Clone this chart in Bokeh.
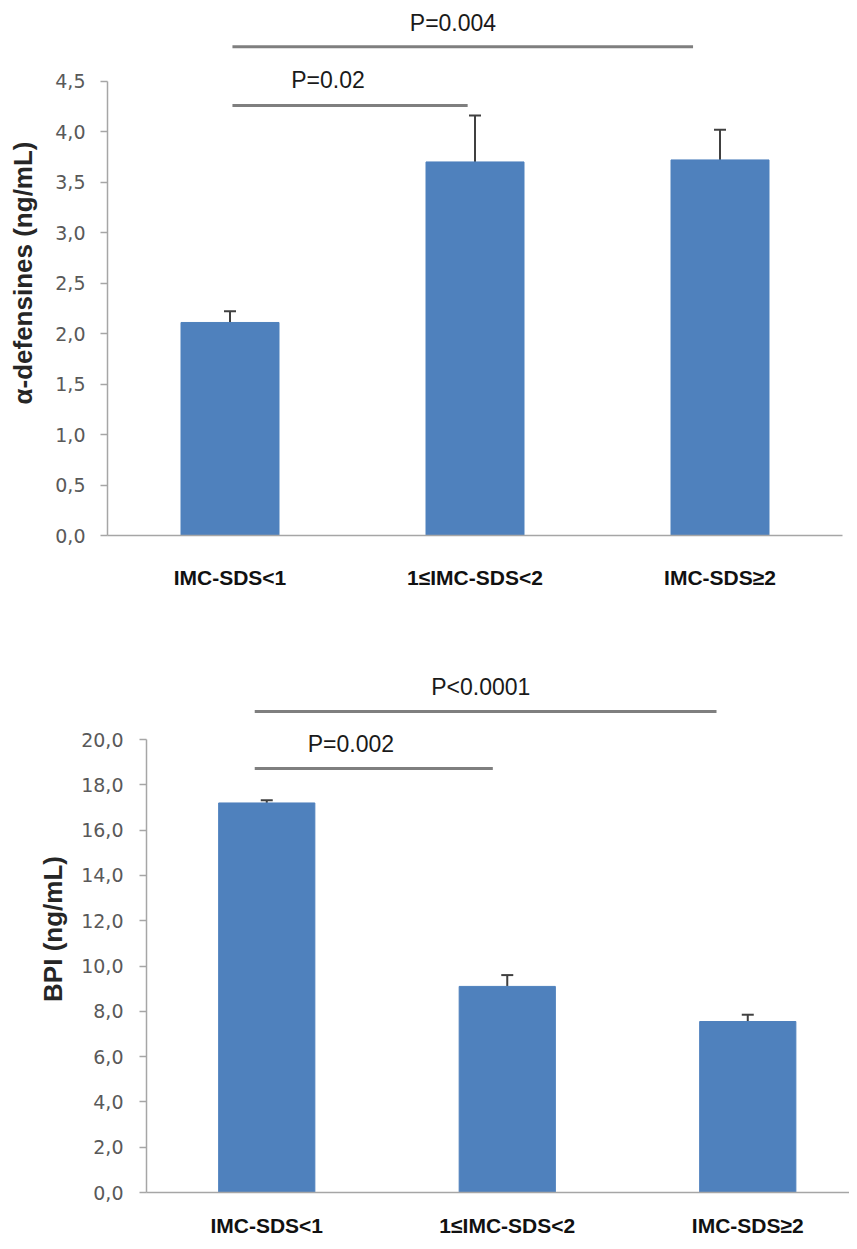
from bokeh.plotting import figure
from bokeh.models import Range1d, FixedTicker, ColumnDataSource, Whisker, TeeHead
from bokeh.core.properties import value
from bokeh.embed import file_html
from bokeh.resources import INLINE

# ---------------- data ----------------
categories = ["IMC-SDS<1", "1\u2264IMC-SDS<2", "IMC-SDS\u22652"]

defensin_mean = [2.11, 3.70, 3.72]
defensin_err = [0.11, 0.46, 0.30]
defensin_ticks = [0.0, 0.5, 1.0, 1.5, 2.0, 2.5, 3.0, 3.5, 4.0, 4.5]
defensin_tick_labels = ["0,0", "0,5", "1,0", "1,5", "2,0", "2,5", "3,0", "3,5", "4,0", "4,5"]
defensin_p_labels = ["P=0.02", "P=0.004"]

bpi_mean = [17.2, 9.1, 7.55]
bpi_err = [0.12, 0.50, 0.30]
bpi_ticks = [0.0, 2.0, 4.0, 6.0, 8.0, 10.0, 12.0, 14.0, 16.0, 18.0, 20.0]
bpi_tick_labels = ["0,0", "2,0", "4,0", "6,0", "8,0", "10,0", "12,0", "14,0", "16,0", "18,0", "20,0"]
bpi_p_labels = ["P=0.002", "P<0.0001"]

BAR = "#4F81BD"
AXIS = "#A6A6A6"
TICKLAB = "#595959"
NARROW = "'Liberation Sans Narrow', 'Arial Narrow', 'Liberation Sans', sans-serif"


def make_chart(means, errs, ticks, tick_labels, ylabel, p_labels,
               bracket_x0, bracket_x1, bracket_y, ptext_x, ptext_y,
               width, height, left, right, top, bottom, x_end, y_end,
               label_standoff, tick_standoff, ylabel_standoff):
    xs = [i + 0.5 for i in range(len(categories))]
    p = figure(width=width, height=height, output_backend="svg", toolbar_location=None,
               x_range=Range1d(0, x_end), y_range=Range1d(0, y_end),
               min_border_left=left, min_border_right=right,
               min_border_top=top, min_border_bottom=bottom)
    p.outline_line_color = None
    p.xgrid.visible = False
    p.ygrid.visible = False
    p.background_fill_color = "white"
    p.border_fill_color = "white"

    src = ColumnDataSource(dict(x=xs, top=means,
                                upper=[m + e for m, e in zip(means, errs)]))
    p.vbar(x="x", top="top", width=0.4, bottom=0, source=src,
           fill_color=BAR, line_color=BAR)
    w = Whisker(source=src, base="x", upper="upper", lower="top",
                upper_head=TeeHead(size=12, line_color="#404040", line_width=2),
                lower_head=None, line_color="#404040", line_width=2)
    p.add_layout(w)

    # significance brackets
    p.segment(x0=bracket_x0, x1=bracket_x1, y0=bracket_y, y1=bracket_y,
              line_color="#7F7F7F", line_width=3)
    p.text(x=ptext_x, y=ptext_y, text=p_labels, text_align="center",
           text_baseline="middle", text_font=value(NARROW),
           text_font_size="23px", text_color="#1a1a1a")

    # y axis
    ya = p.yaxis[0]
    ya.ticker = FixedTicker(ticks=ticks)
    ya.major_label_overrides = dict(zip(ticks, tick_labels))
    ya.bounds = (ticks[0], ticks[-1])
    ya.axis_line_color = AXIS
    ya.axis_line_width = 1.5
    ya.major_tick_line_color = AXIS
    ya.major_tick_line_width = 1.5
    ya.major_tick_out = 7
    ya.major_tick_in = 0
    ya.minor_tick_line_color = None
    ya.major_label_text_font = "DejaVu Sans"
    ya.major_label_text_font_size = "19px"
    ya.major_label_text_color = TICKLAB
    ya.major_label_standoff = tick_standoff
    ya.axis_label = ylabel
    ya.axis_label_text_font = "Liberation Sans"
    ya.axis_label_text_font_style = "bold"
    ya.axis_label_text_font_size = "26px"
    ya.axis_label_text_color = "#262626"
    ya.axis_label_standoff = ylabel_standoff

    # x axis
    xa = p.xaxis[0]
    xa.ticker = FixedTicker(ticks=xs)
    xa.major_label_overrides = dict(zip(xs, categories))
    xa.axis_line_color = AXIS
    xa.axis_line_width = 1.5
    xa.major_tick_line_color = None
    xa.minor_tick_line_color = None
    xa.major_label_text_font = "Liberation Sans"
    xa.major_label_text_font_style = "bold"
    xa.major_label_text_font_size = "21px"
    xa.major_label_text_color = "#111111"
    xa.major_label_standoff = label_standoff
    return p


p1 = make_chart(defensin_mean, defensin_err, defensin_ticks, defensin_tick_labels,
                "\u03b1-defensines (ng/mL)", defensin_p_labels,
                bracket_x0=[0.51, 0.51], bracket_x1=[1.47, 2.39], bracket_y=[4.26, 4.84],
                ptext_x=[0.90, 1.41], ptext_y=[4.51, 5.08],
                width=849, height=600, left=107, right=7, top=10, bottom=65,
                x_end=3.0, y_end=5.20, label_standoff=24, tick_standoff=15,
                ylabel_standoff=14)

p2 = make_chart(bpi_mean, bpi_err, bpi_ticks, bpi_tick_labels,
                "BPI (ng/mL)", bpi_p_labels,
                bracket_x0=[0.45, 0.45], bracket_x1=[1.44, 2.37], bracket_y=[18.72, 21.24],
                ptext_x=[0.85, 1.39], ptext_y=[19.82, 22.3],
                width=849, height=641, left=146, right=0, top=65, bottom=49,
                x_end=2.923, y_end=23.27, label_standoff=15, tick_standoff=16,
                ylabel_standoff=10)

open("out.html", "w").write(file_html([p1, p2], INLINE))
